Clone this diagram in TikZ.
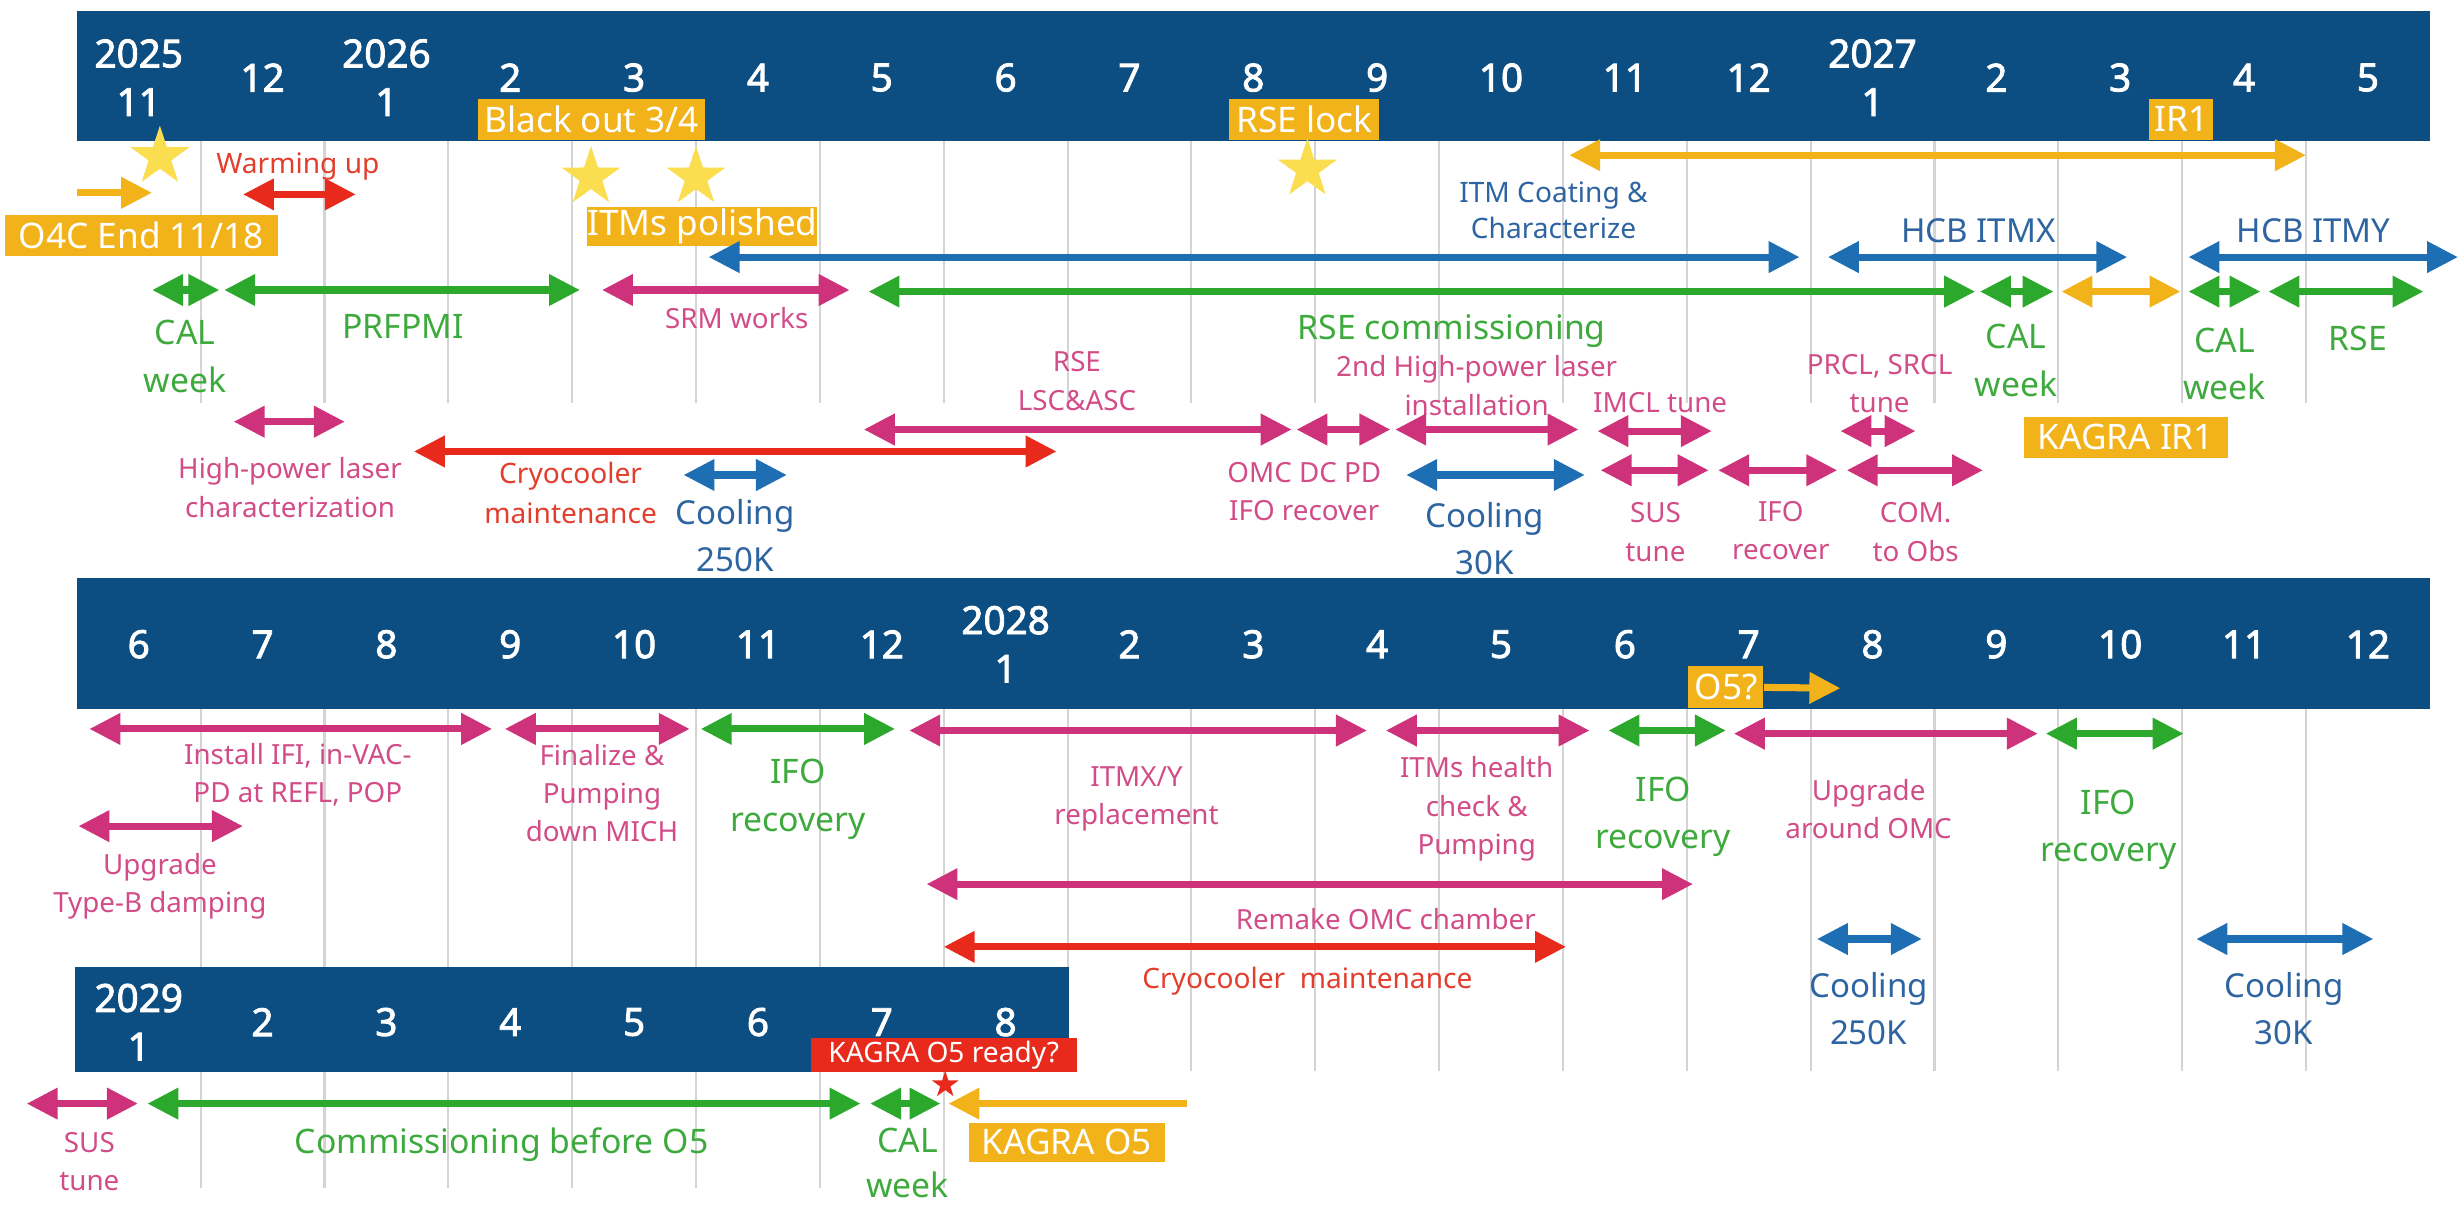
\documentclass[tikz,border=0pt]{standalone}
\usepackage{fontspec}
\setmainfont{Noto Sans}
\newfontfamily\monthfont{Noto Sans}[FakeBold=2.2]
\usepackage{tikz}
\usetikzlibrary{arrows.meta,positioning,shapes.geometric}

\definecolor{kband}{RGB}{12,78,130}
\definecolor{kgrid}{RGB}{212,212,212}
\definecolor{kgreen}{RGB}{44,168,44}
\definecolor{kgreentxt}{RGB}{62,170,62}
\definecolor{kpink}{RGB}{206,50,122}
\definecolor{kpinktxt}{RGB}{210,76,136}
\definecolor{kred}{RGB}{232,42,28}
\definecolor{kredtxt}{RGB}{226,62,46}
\definecolor{kblue}{RGB}{30,110,180}
\definecolor{kbluetxt}{RGB}{46,100,160}
\definecolor{korange}{RGB}{242,178,26}
\definecolor{kyellow}{RGB}{250,222,80}

\begin{document}
\begin{tikzpicture}[
x=0.15676mm, y=-0.15676mm,
gridln/.style={draw=kgrid, line width=0.6pt},
month/.style={text=white, align=center, inner sep=0pt, font=\monthfont\fontsize{11}{13.8}\selectfont},
obox/.style={fill=korange, text=white, inner sep=0pt, font=\fontsize{10}{12}\selectfont},
ystar/.style={star, star points=5, star point ratio=2.6, fill=kyellow, inner sep=0pt, minimum size=6.2mm},
dbl/.style={line width=2pt, {Triangle[length=3.1mm,width=3mm]}-{Triangle[length=3.1mm,width=3mm]}},
fwd/.style={line width=2pt, -{Triangle[length=3.1mm,width=3mm]}},
bwd/.style={line width=2pt, {Triangle[length=3.1mm,width=3mm]}-},
gtxt/.style={text=kgreentxt, align=center, font=\fontsize{9.6}{13.5}\selectfont},
ptxt/.style={text=kpinktxt, align=center, font=\fontsize{7.9}{10.9}\selectfont},
btxt/.style={text=kbluetxt, align=center, font=\fontsize{9.4}{13.3}\selectfont},
rtxt/.style={text=kredtxt, align=center, font=\fontsize{8}{11.2}\selectfont}
]
\useasboundingbox (0,0) rectangle (1568,771);

% month grid
\foreach \k in {1,...,18} \draw[gridln] ({49+79*\k},90) -- ({49+79*\k},257);
\foreach \k in {1,...,7} \draw[gridln] ({49+79*\k},452) -- ({49+79*\k},758);
\foreach \k in {8,...,18} \draw[gridln] ({49+79*\k},452) -- ({49+79*\k},683);

% timeline bars
\fill[kband] (49,7) rectangle (1550,90);
\fill[kband] (49,369) rectangle (1550,452);
\fill[kband] (48,617) rectangle (682,684);
\foreach \m [count=\i from 0] in {{2025\\11},12,{2026\\1},2,3,4,5,6,7,8,9,10,11,12,{2027\\1},2,3,4,5}
  \node[month] (ma\i) at ({49+79*(\i+0.5)},49.5) {\m};
\foreach \m [count=\i from 0] in {6,7,8,9,10,11,12,{2028\\1},2,3,4,5,6,7,8,9,10,11,12}
  \node[month] (mb\i) at ({49+79*(\i+0.5)},411) {\m};
\foreach \m [count=\i from 0] in {{2029\\1},2,3,4,5,6,7,8}
  \node[month] (mc\i) at ({49+79*(\i+0.5)},652) {\m};

% milestones
\node[obox, minimum width=2.27cm, minimum height=0.41cm] (blackout) at (377.5,76) {Black out 3/4};
\node[obox, minimum width=1.50cm, minimum height=0.41cm] (rselock) at (832,76) {RSE lock};
\node[obox, minimum width=0.64cm, minimum height=0.41cm] (ir1) at (1391.5,76) {IR1};
\node[obox, minimum width=2.73cm, minimum height=0.41cm] (o4c) at (90,150) {O4C End 11/18};
\node[obox, minimum width=2.29cm, minimum height=0.39cm] (polish) at (448,144.5) {ITMs polished};
\node[obox, minimum width=2.04cm, minimum height=0.41cm] (kir1) at (1356,279) {KAGRA IR1};
\node[obox, minimum width=0.75cm, minimum height=0.42cm] (o5q) at (1101,438.5) {O5?};
\node[obox, minimum width=1.96cm, minimum height=0.39cm] (ko5) at (680.5,728.5) {KAGRA O5};
\node[fill=kred, text=white, inner sep=0pt, minimum width=2.66cm, minimum height=0.345cm,
  font=\fontsize{8}{10}\selectfont] (ready) at (602,673) {KAGRA O5 ready?};
\node[ystar] (st1) at (102,100) {};
\node[ystar] (st2) at (377,113) {};
\node[ystar] (st3) at (444,113) {};
\node[ystar] (st4) at (834,108) {};
\node[ystar, fill=kred, minimum size=2.8mm] (st5) at (603,692) {};

% 2025-2027
\draw[fwd, korange] (49,123) -- (97,123);
\draw[dbl, kred] (155,124) -- (227,124);
\node[rtxt] (warm) at (190,106) {Warming up};
\draw[dbl, korange] (1001,99) -- (1471,99);
\draw[dbl, kblue] (452,164) -- (1148,164);
\node[btxt, font=\fontsize{8}{10.1}\selectfont] (coat) at (991,134) {ITM Coating \&\\Characterize};
\draw[dbl, kblue] (1166,164) -- (1357,164);
\node[btxt] (hcbx) at (1262,147) {HCB ITMX};
\draw[dbl, kblue] (1396,164) -- (1568,164);
\node[btxt] (hcby) at (1476,147) {HCB ITMY};
\draw[dbl, kgreen] (97,185) -- (140,185);
\node[gtxt] (cal1) at (118,227.5) {CAL\\week};
\draw[dbl, kgreen] (143,185) -- (370,185);
\node[gtxt] (prfpmi) at (257,208) {PRFPMI};
\draw[dbl, kpink] (384,185) -- (542,185);
\node[ptxt] (srm) at (470,203) {SRM works};
\draw[dbl, kgreen] (554,186) -- (1260,186);
\node[gtxt] (rsecom) at (926,211) {RSE commissioning};
\draw[dbl, kgreen] (1263,186) -- (1310,186);
\node[gtxt] (cal2) at (1286,230) {CAL\\week};
\draw[dbl, korange] (1315,186) -- (1391,186);
\draw[dbl, kgreen] (1396,186) -- (1442,186);
\node[gtxt] (cal3) at (1419,232) {CAL\\week};
\draw[dbl, kgreen] (1447,186) -- (1546,186);
\node[gtxt] (rse) at (1504,216) {RSE};
\node[ptxt] (lsc) at (687,243) {RSE\\LSC\&ASC};
\draw[dbl, kpink] (551,274) -- (824,274);
\draw[dbl, kpink] (827,274) -- (887,274);
\node[ptxt] (omc) at (832,313.5) {OMC DC PD\\IFO recover};
\node[ptxt] (hpl2) at (942,246) {2nd High-power laser\\installation};
\draw[dbl, kpink] (890,274) -- (1007,274);
\node[ptxt] (imcl) at (1059,257) {IMCL tune};
\draw[dbl, kpink] (1019,275) -- (1092,275);
\node[ptxt] (prcl) at (1199,244.5) {PRCL, SRCL\\tune};
\draw[dbl, kpink] (1174,275) -- (1222,275);
\draw[dbl, kpink] (149,269) -- (220,269);
\node[ptxt] (hpl) at (185,311) {High-power laser\\characterization};
\draw[dbl, kred] (264,288) -- (674,288);
\node[rtxt] (cryo1) at (364,314.5) {Cryocooler\\maintenance};
\draw[dbl, kblue] (436,303) -- (502,303);
\node[btxt] (cool1) at (469,341.5) {Cooling\\250K};
\draw[dbl, kblue] (897,303) -- (1011,303);
\node[btxt] (cool2) at (947,343.5) {Cooling\\30K};
\draw[dbl, kpink] (1021,300) -- (1090,300);
\node[ptxt] (sus1) at (1056,339.5) {SUS\\tune};
\draw[dbl, kpink] (1096,300) -- (1172,300);
\node[ptxt] (ifo1) at (1136,338.5) {IFO\\recover};
\draw[dbl, kpink] (1178,300) -- (1265,300);
\node[ptxt] (com) at (1222,339.5) {COM.\\to Obs};

% 2027-2028
\draw[dbl, kpink] (57,465) -- (314,465);
\node[ptxt] (ifi) at (190,494) {Install IFI, in-VAC-\\PD at REFL, POP};
\draw[dbl, kpink] (322,465) -- (440,465);
\node[ptxt] (fin) at (384,506) {Finalize \&\\Pumping\\down MICH};
\draw[dbl, kgreen] (447,465) -- (571,465);
\node[gtxt] (ifo2) at (509,510) {IFO\\recovery};
\draw[dbl, kpink] (580,466) -- (872,466);
\node[ptxt] (itmxy) at (725,509.5) {ITMX/Y\\replacement};
\draw[dbl, kpink] (884,466) -- (1014,466);
\node[ptxt] (health) at (942,516) {ITMs health\\check \&\\Pumping};
\draw[dbl, kgreen] (1026,466) -- (1101,466);
\node[gtxt] (ifo3) at (1061,521) {IFO\\recovery};
\draw[fwd, korange] (o5q.east) -- (1174,439);
\draw[dbl, kpink] (1106,468) -- (1300,468);
\node[ptxt] (upomc) at (1192,516) {Upgrade\\around OMC};
\draw[dbl, kgreen] (1305,468) -- (1393,468);
\node[gtxt] (ifo4) at (1345,529.5) {IFO\\recovery};
\draw[dbl, kpink] (50,527) -- (155,527);
\node[ptxt] (typeb) at (102,565.5) {Upgrade\\Type-B damping};
\draw[dbl, kpink] (591,564) -- (1080,564);
\node[ptxt] (remake) at (884,586) {Remake OMC chamber};
\draw[dbl, kred] (602,604) -- (999,604);
\node[rtxt] (cryo2) at (834,626) {Cryocooler~ maintenance};
\draw[dbl, kblue] (1159,599) -- (1226,599);
\node[btxt] (cool3) at (1192,643.5) {Cooling\\250K};
\draw[dbl, kblue] (1401,599) -- (1514,599);
\node[btxt] (cool4) at (1457,643.5) {Cooling\\30K};

% 2029
\draw[dbl, kpink] (17,704) -- (88,704);
\node[ptxt] (sus2) at (57,741) {SUS\\tune};
\draw[dbl, kgreen] (94,704) -- (549,704);
\node[gtxt] (combef) at (320,730) {Commissioning before O5};
\draw[dbl, kgreen] (555,704) -- (600,704);
\node[gtxt, font=\fontsize{9.6}{12.8}\selectfont] (cal4) at (579,742) {CAL\\week};
\draw[bwd, korange] (605,704) -- (757,704);
\end{tikzpicture}
\end{document}
